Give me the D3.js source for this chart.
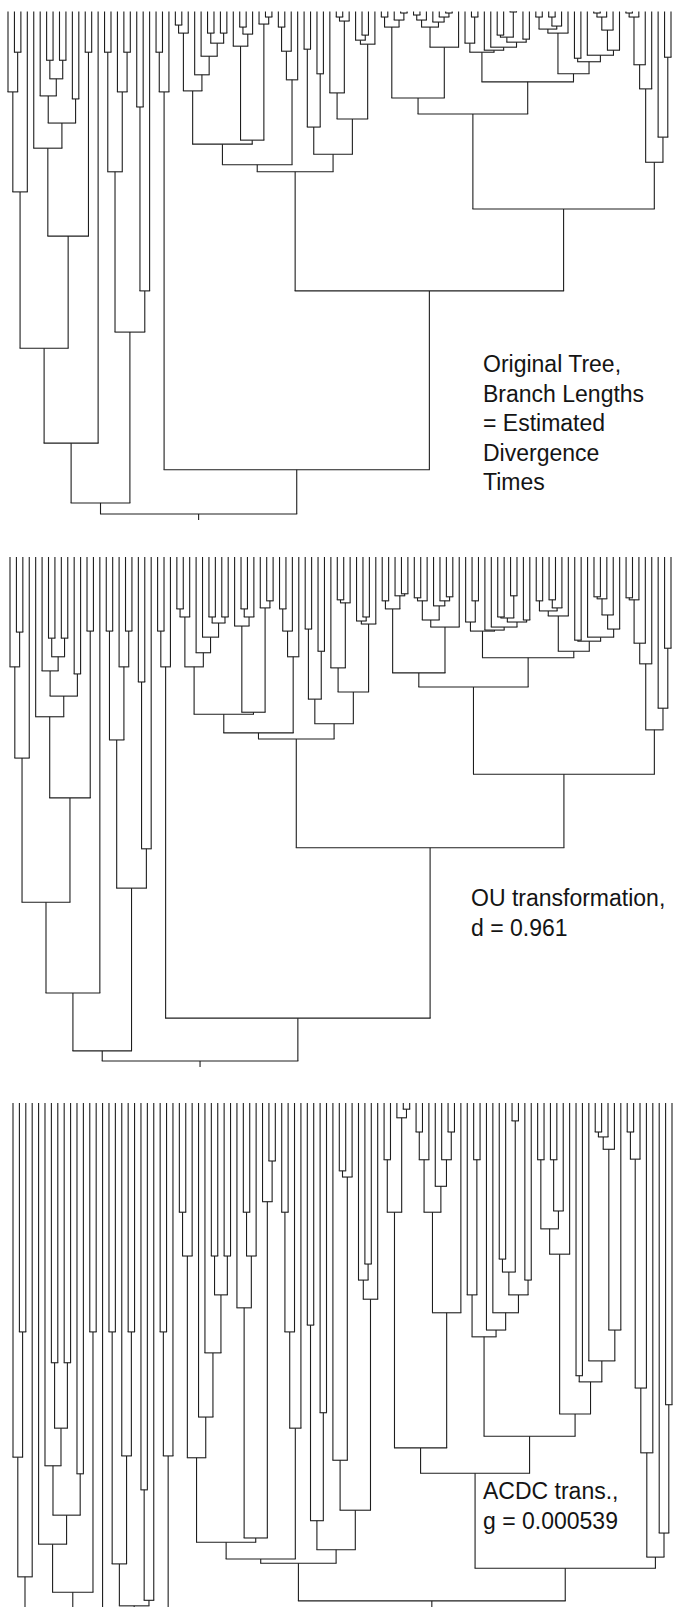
<!DOCTYPE html>
<html>
<head>
<meta charset="utf-8">
<script src="https://cdn.jsdelivr.net/npm/d3@7"></script>
<style>
  body { margin: 0; background: #fff; }
  svg { display: block; }
  .branch { stroke: #1e1e1e; stroke-width: 1.1; fill: none; }
  .label { font-family: "Liberation Sans", Arial, sans-serif; font-size: 23px; fill: #141414; }
</style>
</head>
<body>
<svg id="chart" width="673" height="1607"></svg>
<script>
// tree topology (tips 0..103 left to right), internal nodes carry ids
const cladeA = "(((((0,(1,2)a1)a2,3)a3,((4,((5,((6,7)a4,(8,9)a5)a6)a7,(10,11)a8)a9)a10,(12,13)a11)a12)a13,14)a14," +
  "(((15,16)a15,(17,(18,19)a16)a17)a18,((20,21)a19,22)a20)a21)A";
const cladeD = "((((((26,27)c1,28)c2,(29,(30,((31,32)c3,(33,34)c4)c5)c6)c7)c8,((35,((36,37)c9,38)c10)c11,(39,(40,41)c12)c13)c14)c15," +
  "(((42,43)c16,44)c17,45)c18)Dl,(((46,47)d1,(48,49)d2)d3,((50,((51,52)d4,53)d5)d6,((54,(55,56)d7)d8,57)d9)d10)Dr)D";
const cladeE1 = "((((58,59)e1,(60,(61,62)e2)e3)e4,((((63,64)e5,65)e6,(66,(67,(68,69)e7)e8)e9)e10,70)e11)e12," +
  "(((71,(72,73)f1)f2,(74,(75,(((76,77)f3,(78,79)f4)f5,(80,81)f6)f7)f8)f9)f10," +
  "((((82,83)g1,((84,85)g2,86)g3)g4,87)g5,((88,89)g6,(90,((((91,92)g7,93)g8,94)g9,95)g10)g11)g12)g13)er)E1";
const cladeE2 = "(((((96,97)h1,98)h2,99)h3,100)h4,(101,(102,103)h6)h7)E2";
const treeNewick = `(${cladeA},(((23,24)b1,25)b2,(${cladeD},(${cladeE1},${cladeE2})E)C)B)root`;

const nodeIds = [
  "a1","a2","a3","a4","a5","a6","a7","a8","a9","a10","a11","a12","a13","a14","a15","a16","a17","a18","a19","a20","a21","A",
  "b1","b2","B","root",
  "c1","c2","c3","c4","c5","c6","c7","c8","c9","c10","c11","c12","c13","c14","c15","c16","c17","c18","Dl",
  "d1","d2","d3","d4","d5","d6","d7","d8","d9","d10","Dr","D",
  "e1","e2","e3","e4","e5","e6","e7","e8","e9","e10","e11","e12",
  "f1","f2","f3","f4","f5","f6","f7","f8","f9","f10",
  "g1","g2","g3","g4","g5","g6","g7","g8","g9","g10","g11","g12","g13",
  "er","E1","h1","h2","h3","h4","h6","h7","E2","E","C"
];

// node ages, root = 100
const agesOriginal = [
  8.1,16.0,35.9,9.7,9.7,13.4,16.8,17.4,22.2,27.2,8.1,44.7,67.0,85.9,8.1,8.1,16.0,31.9,19.0,55.6,63.8,97.8,
  8.1,16.0,91.2,100,
  2.7,4.3,4.3,4.3,6.3,8.9,12.6,15.8,3.1,4.5,6.9,1.1,2.5,25.6,26.4,3.1,7.9,13.6,30.5,
  7.5,12.4,23.0,1.1,1.9,16.2,4.7,5.7,6.5,21.4,28.4,31.9,
  1.1,0.3,1.7,3.1,0.7,1.7,0.3,1.1,2.1,3.1,7.1,17.2,
  1.1,6.3,4.7,0.1,5.1,5.5,6.1,7.1,7.7,8.1,
  1.1,1.1,2.9,3.5,4.3,9.3,0.3,1.1,3.7,7.7,8.7,10.0,12.4,
  14.0,20.4,0.3,1.1,10.6,15.4,9.1,25.0,30.0,39.3,55.6
];
const agesOU = [
  14.9,21.8,39.9,16.1,16.1,19.8,22.6,23.2,27.6,31.7,14.7,47.8,68.5,86.5,14.7,14.7,21.8,36.3,24.8,57.9,65.7,98.0,
  14.7,21.8,91.5,100,
  10.3,11.9,11.9,11.9,13.1,15.9,19.0,21.8,10.3,11.9,13.7,8.7,10.1,30.8,31.2,10.3,14.7,19.8,34.9,
  14.3,18.7,28.2,8.5,9.1,22.0,11.9,12.7,13.3,26.8,33.1,36.1,
  8.7,7.3,7.7,10.3,8.1,8.7,7.9,8.7,9.7,12.5,13.9,23.0,
  8.7,12.9,11.9,7.7,12.1,12.5,12.9,13.9,14.5,14.7,
  8.7,8.5,10.1,10.7,11.7,16.5,7.9,8.3,11.5,14.3,15.9,16.7,18.7,
  20.0,25.8,8.1,8.5,17.1,21.2,18.1,30.0,34.3,43.1,57.7
];
const agesACDC = [
  37.1,57.4,76.8,42.1,42.1,52.7,58.8,60.1,66.8,71.5,37.1,79.3,87.0,93.5,37.1,37.1,57.2,74.7,62.7,80.6,81.5,96.8,
  37.1,57.2,90.3,100,
  17.7,24.8,24.8,24.8,31.1,40.5,50.9,57.5,17.7,24.8,33.2,9.4,16.0,70.5,71.2,17.7,37.1,52.7,73.9,
  36.0,50.2,67.7,11.0,12.0,57.9,26.1,28.7,31.8,66.0,72.4,74.6,
  9.2,1.0,2.4,17.7,4.7,9.2,4.7,9.2,13.5,17.7,34.0,55.9,
  9.2,31.1,25.3,2.9,27.4,28.7,31.1,34.0,36.8,37.9,
  9.2,9.2,17.5,20.4,24.5,44.2,4.7,5.5,7.5,36.8,41.8,45.2,50.4,
  54.0,60.0,4.7,9.1,46.2,56.7,48.9,69.7,73.6,75.4,80.7
];

const labelOriginal = ["Original Tree,", "Branch Lengths", "= Estimated", "Divergence", "Times"];
const labelOU = ["OU transformation,", "d = 0.961"];
const labelACDC = ["ACDC trans.,", "g = 0.000539"];

const panels = [
  { ages: agesOriginal, label: labelOriginal, tipY: 11.5, rootY: 514, x0: 8, x1: 671, textX: 483, textY: 372 },
  { ages: agesOU, label: labelOU, tipY: 557, rootY: 1061, x0: 10, x1: 671, textX: 471, textY: 906 },
  { ages: agesACDC, label: labelACDC, tipY: 1103, rootY: 1720, x0: 13, x1: 672, textX: 483, textY: 1499 }
];

function parseNewick(s) {
  let i = 0;
  function node() {
    const n = {};
    if (s[i] === "(") {
      i++;
      n.children = [node()];
      while (s[i] === ",") { i++; n.children.push(node()); }
      i++;
    }
    const j = i;
    while (i < s.length && !",()".includes(s[i])) i++;
    n.name = s.slice(j, i);
    return n;
  }
  return node();
}

const svg = d3.select("#chart");
const parsed = parseNewick(treeNewick);
const nTips = 104;

panels.forEach(p => {
  const ageOf = new Map(nodeIds.map((id, k) => [id, p.ages[k]]));
  const x = d3.scaleLinear().domain([0, nTips - 1]).range([p.x0, p.x1]);
  const y = d3.scaleLinear().domain([0, 100]).range([p.tipY, p.rootY]);

  const root = d3.hierarchy(parsed);
  root.eachAfter(d => {
    if (!d.children) { d.px = x(+d.data.name); d.age = 0; }
    else { d.px = d3.mean(d.children, c => c.px); d.age = ageOf.get(d.data.name); }
  });

  const g = svg.append("g");

  // vertical stems
  g.selectAll(".stem")
    .data(root.descendants().filter(d => d.parent))
    .enter().append("line")
    .attr("class", "branch")
    .attr("x1", d => d.px).attr("x2", d => d.px)
    .attr("y1", d => y(d.age)).attr("y2", d => y(d.parent.age));

  // horizontal connectors
  g.selectAll(".bar")
    .data(root.descendants().filter(d => d.children))
    .enter().append("line")
    .attr("class", "branch")
    .attr("x1", d => d.children[0].px - 0.5)
    .attr("x2", d => d.children[d.children.length - 1].px + 0.5)
    .attr("y1", d => y(d.age)).attr("y2", d => y(d.age));

  // root tick
  g.append("line")
    .attr("class", "branch")
    .attr("x1", root.px).attr("x2", root.px)
    .attr("y1", y(100)).attr("y2", y(100) + 6);

  g.append("text")
    .attr("class", "label")
    .selectAll("tspan")
    .data(p.label)
    .enter().append("tspan")
    .attr("x", p.textX)
    .attr("y", (d, k) => p.textY + k * 29.5)
    .text(d => d);
});
</script>
</body>
</html>
